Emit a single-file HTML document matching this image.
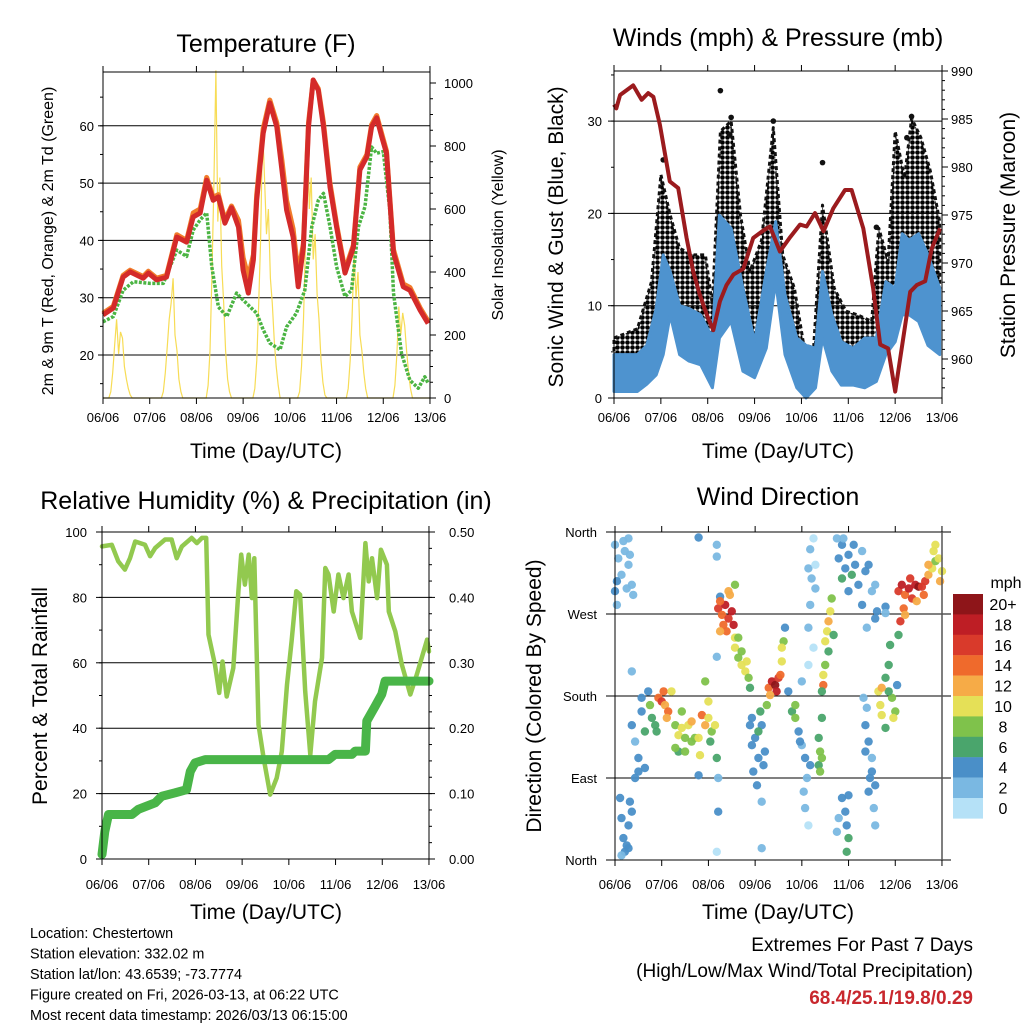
<!DOCTYPE html>
<html><head><meta charset="utf-8"><style>
body{margin:0;background:#fff;}
svg{display:block;font-family:"Liberation Sans",sans-serif;}
</style></head><body>
<svg id="c" width="1024" height="1024" viewBox="0 0 1024 1024">
<defs>
<pattern id="dots" width="5" height="5" patternUnits="userSpaceOnUse"><circle cx="2.5" cy="2.5" r="2.3" fill="#000"/></pattern>
</defs>
</svg>
<script>
// ---------- DATA ----------
const tempDays=[0,0.22,0.43,0.58,0.86,0.97,1.15,1.36,1.58,1.79,1.93,2.08,2.22,2.36,2.47,2.61,2.75,2.90,3.00,3.11,3.22,3.29,3.43,3.57,3.72,3.83,3.93,4.07,4.18,4.29,4.40,4.50,4.61,4.72,4.86,5.00,5.18,5.36,5.50,5.65,5.75,5.86,5.97,6.07,6.22,6.43,6.57,6.79,6.96];
const tempRed=[27.0,28.2,33.6,34.5,33.4,34.3,33.1,33.6,40.6,39.7,44.1,44.8,50.5,47.0,47.6,43.0,45.7,42.3,34.8,30.8,36.6,47.0,58.7,64.0,59.8,52.3,45.3,40.6,31.9,38.8,59.8,68.0,66.2,59.8,49.3,42.3,34.3,38.8,52.3,54.6,59.8,61.4,58.0,55.2,37.8,31.9,31.3,27.8,25.5];
const tempOrange=[27.3,28.5,33.9,34.8,33.7,34.6,33.4,33.9,41.0,40.0,44.8,45.5,51.0,47.5,48.0,43.5,46.0,43.5,37.0,33.5,37.5,48.0,59.5,64.5,60.5,54.0,47.0,42.0,34.0,39.5,60.5,68.0,66.5,60.5,50.0,42.8,34.8,39.2,52.8,55.0,60.2,61.8,58.5,55.6,38.4,32.4,31.8,28.2,25.9];
const dewDays=[0,0.22,0.43,0.65,1.01,1.29,1.58,1.79,1.93,2.08,2.22,2.33,2.47,2.65,2.86,3.00,3.15,3.29,3.43,3.57,3.79,3.93,4.14,4.32,4.47,4.61,4.72,4.86,5.00,5.18,5.32,5.47,5.61,5.75,5.86,6.00,6.14,6.22,6.39,6.57,6.75,6.89,6.96];
const dewPt=[25.8,26.7,31.3,32.8,32.5,32.5,38.3,37.2,41.8,43.6,44.8,35.4,28.4,26.7,30.8,29.6,28.4,27.3,24.4,22.1,20.9,24.9,27.3,31.3,42.4,47.0,48.2,42.4,35.4,30.2,31.3,42.4,45.9,56.3,55.2,55.5,45.3,30.8,20.3,15.6,14.2,16.2,15.1];
const solar=[
0,0,0,0,20,80,170,250,140,210,190,100,60,30,10,0,0,0,0,0,0,0,0,0,
0,0,0,0,0,0,0,20,80,160,250,300,380,200,150,60,20,0,0,0,0,0,0,0,
0,0,0,0,0,0,40,150,400,680,1040,560,700,420,300,150,60,20,0,0,0,0,0,0,
0,0,0,0,0,0,30,120,300,500,860,700,520,600,380,300,180,100,40,0,0,0,0,0,
0,0,0,0,0,20,100,250,480,880,600,700,440,520,330,250,120,50,10,0,0,0,0,0,
0,0,0,0,0,0,30,120,260,460,320,400,200,150,80,30,0,0,0,0,0,0,0,0,
0,0,0,0,0,0,40,140,290,200,270,230,150,80,30,0,0,0,0,0,0,0,0,0,0];

const presDays=[0,0.05,0.13,0.41,0.59,0.73,0.84,0.98,1.19,1.37,1.55,1.69,1.83,1.98,2.12,2.26,2.40,2.55,2.76,2.97,3.19,3.33,3.54,3.76,3.97,4.11,4.29,4.47,4.68,4.93,5.07,5.32,5.53,5.68,5.85,6.00,6.14,6.32,6.46,6.64,6.78,6.96];
const pressure=[986.5,986.1,987.5,988.5,987.0,987.7,987.3,984.4,978.5,977.8,972.6,969.1,966.7,964.6,963.0,966.0,967.7,968.8,969.4,972.6,973.4,973.8,971.2,972.7,974.0,973.8,975.2,973.3,975.7,977.6,977.6,973.6,967.4,961.5,961.1,956.6,961.1,967.0,967.7,968.1,971.5,973.6];
const windDays=[0,0.5,0.7,0.9,1.05,1.2,1.4,1.6,1.85,2.1,2.25,2.5,2.75,3.0,3.25,3.45,3.65,3.9,4.1,4.3,4.45,4.65,4.85,5.1,5.35,5.6,5.8,6.0,6.15,6.3,6.5,6.7,6.95];
const windHi=[4.7,4.7,5.7,9.7,15.5,13.7,10,9.7,9,6.5,19.8,18.4,11.9,6.1,13.7,19.1,11.2,6.5,5.7,5.4,13.7,9,6.1,5.4,6.5,6.5,12.6,11.9,17.8,17.1,17.8,15.5,11.9];
const windLo=[0.7,0.7,1.5,2.5,4.7,9,4.7,4,3.6,1.1,6.5,8.3,2.9,2.2,5.4,12.6,4.7,1.1,0,1.1,6.5,2.9,1.4,1.4,1.1,1.8,4.7,6.1,9,9,8.3,5.7,4.7];
const gustDays=[0,0.5,0.8,1.0,1.2,1.4,1.7,1.95,2.1,2.27,2.5,2.7,2.9,3.15,3.4,3.6,3.85,4.05,4.25,4.45,4.7,4.95,5.2,5.5,5.65,5.85,6.0,6.2,6.35,6.55,6.75,6.95];
const gustHi=[6.5,7.5,12.6,24.2,19.8,16.2,15.5,15.5,10.1,28.9,30,19.8,13.7,17.1,29.3,15.5,11.9,5.7,4.7,20.9,11.9,9.4,9,8.3,18.4,14.8,28.9,23.8,30.3,28.2,24.6,19.1];
const gustOutDays=[2.27,2.5,2.47,3.4,4.45,6.35,5.6,1.05,6.25];
const gustOutVals=[33.3,30.4,28.5,30.0,25.5,30.5,18.5,25.8,28.2];

const rhDays=[0,0.21,0.35,0.49,0.6,0.71,0.92,1.03,1.14,1.35,1.49,1.6,1.71,1.92,2.03,2.14,2.23,2.28,2.42,2.51,2.58,2.67,2.81,2.92,2.98,3.06,3.14,3.21,3.26,3.35,3.46,3.6,3.74,3.85,3.96,4.06,4.16,4.24,4.35,4.46,4.56,4.71,4.78,4.85,4.96,5.06,5.17,5.28,5.35,5.53,5.64,5.71,5.78,5.89,5.97,6.1,6.14,6.28,6.42,6.6,6.74,6.96,7.0];
const rh=[95.6,96.1,91,88.5,92,97.1,96.1,92.6,95.1,97.7,97.7,92,95.6,98.2,96.6,98.2,98.2,68.6,59.4,50.8,60.4,49.7,58.4,81.9,93.1,83.9,93.1,79.8,92,41.1,30.9,19.7,24.8,32.9,53.3,66.6,81.9,80.8,51.3,31.9,48.2,61.5,89,87,75.7,87,79.8,87,75.7,67.6,96.6,84.9,92,79.8,94.6,90,75.7,69.6,59.4,50.3,56.4,67.1,63.5];
const rainDays=[0,0.06,0.14,0.64,0.78,1.14,1.28,1.56,1.81,1.89,1.99,2.21,4.85,4.99,5.35,5.42,5.64,5.67,5.85,5.99,6.06,7.0];
const rain=[0.007,0.042,0.068,0.068,0.076,0.086,0.096,0.101,0.106,0.134,0.147,0.152,0.152,0.16,0.16,0.165,0.165,0.211,0.234,0.252,0.272,0.272];

const dirDays=[0,0.07,0.14,0.21,0.29,0.36,0,0.04,0.18,0.39,0.04,0.29,0.25,0.32,
0.11,0.14,0.18,0.21,0.29,0.25,0.32,0.36,0.14,0.29,
0.36,0.43,0.5,0.57,0.64,0.71,0.79,0.86,0.5,0.64,0.43,0.36,0.75,0.89,0.57,
0.93,1.0,1.07,1.14,1.04,1.21,1.11,
1.29,1.36,1.43,1.5,1.57,1.64,1.36,1.5,1.64,1.29,1.71,1.43,
1.79,1.86,1.93,2.0,2.07,2.14,1.93,2.04,1.82,2.18,1.79,2.21,2.0,
1.79,2.18,2.18,2.21,2.18,2.18,2.25,
2.21,2.29,2.36,2.43,2.5,2.54,2.25,2.39,2.46,2.32,2.57,2.25,2.57,2.43,
2.57,2.64,2.71,2.79,2.86,2.71,2.89,2.64,2.82,
2.93,3.0,3.07,2.96,3.14,3.21,3.04,3.11,3.18,3.07,2.93,3.14,3.14,2.89,
3.29,3.36,3.43,3.5,3.46,3.54,3.32,3.57,3.61,3.57,3.64,3.25,
3.79,3.86,3.93,4.0,4.07,4.11,4.04,4.07,4.14,3.86,3.96,4.18,3.71,4.0,
4.25,4.18,4.14,4.21,4.29,4.18,4.29,4.14,4.25,4.14,
4.36,4.39,4.36,4.43,4.39,4.43,
4.46,4.46,4.5,4.5,4.54,4.57,4.61,4.64,4.57,4.68,4.43,
4.79,4.86,4.93,5.0,5.07,5.14,5.21,5.29,5.36,5.0,4.86,5.43,5.5,5.29,4.89,4.75,5.11,5.57,
4.86,4.93,4.96,5.0,4.96,4.79,4.75,5.0,
5.36,5.43,5.5,5.46,5.43,5.54,5.57,5.39,5.32,5.5,5.57,5.36,
5.64,5.68,5.71,5.79,5.86,5.89,5.93,6.0,5.96,5.86,5.71,6.04,5.79,
6.07,6.14,6.21,6.29,6.36,6.43,6.5,6.57,6.64,6.71,6.79,6.86,6.93,7.0,6.86,6.11,6.18,6.32,6.46,6.61,6.71,6.82,6.96,6.07,6.21,
5.79,5.61,5.79,5.57,5.39];
const dirDeg=[346,331,313,339,324,302,295,306,350,291,280,353,298,335,
68,46,24,9,38,16,64,53,5,13,
148,130,112,163,141,185,156,148,97,101,90,207,170,141,178,
178,174,170,163,185,185,156,
148,137,145,134,148,130,119,119,152,123,134,163,
134,159,148,156,141,148,196,130,115,112,93,90,174,
354,346,333,53,9,223,289,
276,269,280,265,273,258,284,251,291,258,302,251,244,295,
233,222,214,207,200,229,189,244,218,
156,134,112,97,148,119,82,163,104,141,126,64,13,148,
189,196,192,200,185,203,181,218,240,233,255,170,
163,156,141,126,112,90,75,57,38,170,130,104,185,196,
353,341,320,309,298,280,324,214,233,255,
134,119,104,112,97,156,
192,203,214,240,251,262,273,287,229,247,185,
331,346,320,335,313,324,302,339,317,295,309,324,295,280,353,353,346,302,
68,53,38,24,9,46,31,71,
148,130,112,90,75,57,38,167,178,97,82,119,
185,170,159,200,214,236,178,163,156,185,189,192,145,
295,302,291,298,287,302,300,300,306,313,320,328,331,317,346,262,276,309,284,291,324,339,306,247,269,
278,273,271,265,255];
const dirSpeed=[2,2,1,2,2,2,3,3,1,1,2,1,2,1,
3,3,4,4,3,3,4,3,2,3,
3,2,4,4,5,4,6,6,4,3,4,1,7,6,4,
14,15,12,13,13,10,12,
8,9,10,8,10,7,6,7,11,7,8,8,
10,13,11,10,8,9,8,6,9,5,4,2,10,
4,1,1,3,0,2,4,
16,14,17,15,18,17,13,14,11,13,8,12,10,12,
9,8,9,10,8,7,6,8,10,
4,4,4,3,3,4,4,5,3,6,4,2,2,3,
14,17,19,16,18,13,12,10,8,10,4,8,
6,8,3,2,3,2,1,1,0,7,4,3,4,2,
0,1,1,2,1,2,0,0,0,1,
6,7,6,7,8,6,
14,10,8,9,10,11,10,8,6,5,6,
4,3,4,4,5,4,3,2,4,3,5,3,2,4,2,2,4,2,
4,4,4,5,6,2,2,3,
3,3,2,4,3,2,2,2,1,4,3,4,
10,9,10,6,5,6,7,8,9,6,12,4,5,
16,17,14,18,16,17,19,16,15,12,10,8,9,10,10,16,13,15,12,14,11,9,11,6,12,
4,4,2,4,1];
const speedBins=["20+","18","16","14","12","10","8","6","4","2","0"];
const dayLabels=["06/06","07/06","08/06","09/06","10/06","11/06","12/06","13/06"];

// ---------- HELPERS ----------
const NS="http://www.w3.org/2000/svg";
const svg=document.getElementById('c');
function mk(tag,attrs,parent){const e=document.createElementNS(NS,tag);for(const k in attrs)e.setAttribute(k,attrs[k]);(parent||svg).appendChild(e);return e;}
function txt(s,x,y,size,anchor,parent,extra){const e=mk('text',Object.assign({x:x,y:y,'font-size':size,'text-anchor':anchor||'middle',fill:'#000'},extra||{}),parent);e.textContent=s;return e;}
function pathFrom(xs,ys,fx,fy){let d='';for(let i=0;i<xs.length;i++){d+=(i?'L':'M')+fx(xs[i]).toFixed(1)+','+fy(ys[i]).toFixed(1);}return d;}
function group(name){const g=mk('g',{});return g;}

function xAxis(g,x0,pxDay,yBot,yTop,labelY){
  for(let i=0;i<dayLabels.length;i++){const x=x0+i*pxDay;
    mk('line',{x1:x,y1:yBot,x2:x,y2:yBot+6,stroke:'#000','stroke-width':1},g);
    mk('line',{x1:x,y1:yTop,x2:x,y2:yTop-6,stroke:'#000','stroke-width':1},g);
    const t=txt(dayLabels[i],x,labelY,13,'middle',g);
    
    }
}

// ---------- PANEL 1: TEMPERATURE ----------
(function(){
  const g=group('temperature-panel');
  const L=103,R=430,T=72,B=398;
  const xT=d=>L+d*46.71, yT=t=>355-(t-20)*5.73, yS=s=>398-s*0.315;
  [20,30,40,50,60].forEach(v=>{mk('line',{x1:L,x2:R,y1:yT(v),y2:yT(v),stroke:'#000','stroke-width':1},g);
    const t=txt(String(v),L-9,yT(v)+5,13,'end',g);
    mk('line',{x1:L,x2:L-5,y1:yT(v),y2:yT(v),stroke:'#000'},g);});
  for(let v=15;v<=65;v+=5){mk('line',{x1:L,x2:L-3,y1:yT(v),y2:yT(v),stroke:'#000'},g);}
  [0,200,400,600,800,1000].forEach(v=>{mk('line',{x1:R,x2:R+6,y1:yS(v),y2:yS(v),stroke:'#000'},g);
    const t=txt(String(v),R+14,yS(v)+5,13,'start',g);});
  for(let v=50;v<=1000;v+=50){mk('line',{x1:R,x2:R+3,y1:yS(v),y2:yS(v),stroke:'#000'},g);}
  const sx=[];for(let i=0;i<solar.length;i++)sx.push(i/24);
  const ps=mk('path',{d:pathFrom(sx,solar,xT,yS),fill:'none',stroke:'#f7dc55','stroke-width':1.2},g);
  
  const pd=mk('path',{d:pathFrom(dewDays,dewPt,xT,yT),fill:'none',stroke:'#4bb443','stroke-width':3.5,'stroke-dasharray':'3 1.5','stroke-linejoin':'round'},g);
  
  const po=mk('path',{d:pathFrom(tempDays,tempOrange,xT,yT),fill:'none',stroke:'#f17c2b','stroke-width':5,'stroke-linejoin':'round'},g);
  
  const pr=mk('path',{d:pathFrom(tempDays,tempRed,xT,yT),fill:'none',stroke:'#d42a2a','stroke-width':5,'stroke-linejoin':'round'},g);
  
  mk('rect',{x:L,y:T,width:R-L,height:B-T,fill:'none',stroke:'#000','stroke-width':1},g);
  xAxis(g,L,46.71,B,T,422);
  let t=txt('Temperature (F)',266,52,25,'middle',g);
  t=txt('Time (Day/UTC)',266,458,21,'middle',g);
  t=txt('2m & 9m T (Red, Orange) & 2m Td (Green)',0,0,16,'middle',g,{transform:'translate(53,241) rotate(-90)'});
  t=txt('Solar Insolation (Yellow)',0,0,16,'middle',g,{transform:'translate(503,235) rotate(-90)'});
})();

// ---------- PANEL 2: WINDS ----------
(function(){
  const g=group('winds-panel');
  const L=614,R=942,T=71,B=398;
  const xW=d=>L+d*46.86, yW=m=>398-m*9.23, yP=p=>359-(p-960)*9.6;
  [10,20,30].forEach(v=>mk('line',{x1:L,x2:R,y1:yW(v),y2:yW(v),stroke:'#000'},g));
  [0,10,20,30].forEach(v=>{mk('line',{x1:L,x2:L-6,y1:yW(v),y2:yW(v),stroke:'#000'},g);
    const t=txt(String(v),L-12,yW(v)+5,13,'end',g);});
  for(let v=5;v<=35;v+=5)mk('line',{x1:L,x2:L-3,y1:yW(v),y2:yW(v),stroke:'#000'},g);
  [960,965,970,975,980,985,990].forEach(v=>{mk('line',{x1:R,x2:R+6,y1:yP(v),y2:yP(v),stroke:'#000'},g);
    const t=txt(String(v),R+9,yP(v)+5,13,'start',g);});
  for(let v=957;v<=990;v++)mk('line',{x1:R,x2:R+3,y1:yP(v),y2:yP(v),stroke:'#000'},g);
  // gust band (black dotted cloud)
  let d='';for(let i=0;i<gustDays.length;i++)d+=(i?'L':'M')+xW(gustDays[i]).toFixed(1)+','+yW(gustHi[i]).toFixed(1);
  for(let i=windDays.length-1;i>=0;i--)d+='L'+xW(windDays[i]).toFixed(1)+','+yW(windHi[i]).toFixed(1);
  let e=mk('path',{d:d+'Z',fill:'url(#dots)',stroke:'#111','stroke-width':3,'stroke-dasharray':'4 3','stroke-linejoin':'round'},g);
  
  for(let i=0;i<gustOutDays.length;i++){const c=mk('circle',{cx:xW(gustOutDays[i]),cy:yW(gustOutVals[i]),r:2.8,fill:'#111'},g);
    }
  d='';for(let i=0;i<windDays.length;i++)d+=(i?'L':'M')+xW(windDays[i]).toFixed(1)+','+yW(windHi[i]).toFixed(1);
  for(let i=windDays.length-1;i>=0;i--)d+='L'+xW(windDays[i]).toFixed(1)+','+yW(windLo[i]).toFixed(1);
  e=mk('path',{d:d+'Z',fill:'#4e93cf',stroke:'#4e93cf','stroke-width':3,'stroke-linejoin':'round'},g);
  
  e=mk('path',{d:pathFrom(presDays,pressure,xW,yP),fill:'none',stroke:'#9b1b1e','stroke-width':4,'stroke-linejoin':'round'},g);
  
  mk('rect',{x:L,y:T,width:R-L,height:B-T,fill:'none',stroke:'#000'},g);
  xAxis(g,L,46.86,B,T,422);
  let t=txt('Winds (mph) & Pressure (mb)',778,46,25,'middle',g);
  t=txt('Time (Day/UTC)',778,458,21,'middle',g);
  t=txt('Sonic Wind & Gust (Blue, Black)',0,0,21,'middle',g,{transform:'translate(563,237) rotate(-90)'});
  t=txt('Station Pressure (Maroon)',0,0,21,'middle',g,{transform:'translate(1015,235) rotate(-90)'});
})();

// ---------- PANEL 3: RH & PRECIP ----------
(function(){
  const g=group('humidity-panel');
  const L=102,R=429,T=532,B=859;
  const xR=d=>L+d*46.71, yR=r=>859-r*3.27, yPr=p=>859-p*654;
  [20,40,60,80].forEach(v=>mk('line',{x1:L,x2:R,y1:yR(v),y2:yR(v),stroke:'#000'},g));
  [0,20,40,60,80,100].forEach(v=>{mk('line',{x1:L,x2:L-6,y1:yR(v),y2:yR(v),stroke:'#000'},g);
    const t=txt(String(v),L-15,yR(v)+5,13,'end',g);});
  for(let v=10;v<=90;v+=10)mk('line',{x1:L,x2:L-3,y1:yR(v),y2:yR(v),stroke:'#000'},g);
  ['0.00','0.10','0.20','0.30','0.40','0.50'].forEach(s=>{const v=parseFloat(s);mk('line',{x1:R,x2:R+6,y1:yPr(v),y2:yPr(v),stroke:'#000'},g);
    const t=txt(s,R+20,yPr(v)+5,13,'start',g);});
  for(let v=0.025;v<0.5;v+=0.025)mk('line',{x1:R,x2:R+3,y1:yPr(v),y2:yPr(v),stroke:'#000'},g);
  let e=mk('path',{d:pathFrom(rhDays,rh,xR,yR),fill:'none',stroke:'#92c94f','stroke-width':4.5,'stroke-linejoin':'round','stroke-linecap':'round'},g);
  
  e=mk('path',{d:pathFrom(rainDays,rain,xR,yPr),fill:'none',stroke:'#49b548','stroke-width':9,'stroke-linejoin':'round','stroke-linecap':'round'},g);
  
  mk('rect',{x:L,y:T,width:R-L,height:B-T,fill:'none',stroke:'#000'},g);
  xAxis(g,L,46.71,B,T,889);
  let t=txt('Relative Humidity (%) & Precipitation (in)',266,509,25,'middle',g);
  t=txt('Time (Day/UTC)',266,919,21,'middle',g);
  t=txt('Percent & Total Rainfall',0,0,21,'middle',g,{transform:'translate(47,696) rotate(-90)'});
})();

// ---------- PANEL 4: WIND DIRECTION ----------
const speedColors=['#b5e1f7','#7ab8e2','#4a8fc8','#4aa56c','#7fc24b','#e5e057','#f6ab47','#ef6a2c','#d93a2b','#be1e25','#8e1519'];
function speedColor(s){const i=Math.min(10,Math.max(0,Math.floor((s+1)/2)));return speedColors[i];}
(function(){
  const g=group('wind-direction-panel');
  const L=615,R=942,T=532,B=860;
  const xD=d=>L+d*46.71, yD=a=>860-a*0.9111;
  const names=['North','East','South','West','North'];
  [0,90,180,270,360].forEach((v,i)=>{mk('line',{x1:606,x2:951,y1:yD(v),y2:yD(v),stroke:'#000'},g);
    const t=txt(names[i],597,yD(v)+5,13,'end',g);});
  for(let i=0;i<dirDays.length;i++){
    const c=mk('circle',{cx:xD(dirDays[i]).toFixed(1),cy:yD(dirDeg[i]).toFixed(1),r:4.2,fill:speedColor(dirSpeed[i]),'fill-opacity':0.95},g);
    
    
  }
  mk('line',{x1:L,x2:L,y1:T,y2:B,stroke:'#000'},g);
  mk('line',{x1:R,x2:R,y1:T,y2:B,stroke:'#555','stroke-width':1.5},g);
  xAxis(g,L,46.71,B,T,889);
  let t=txt('Wind Direction',778,505,25,'middle',g);
  t=txt('Time (Day/UTC)',778,919,21,'middle',g);
  t=txt('Direction (Colored By Speed)',0,0,21,'middle',g,{transform:'translate(541,696) rotate(-90)'});
  // legend
  const lg=group('speed-legend');
  t=txt('mph',1006,588,16,'middle',lg);
  for(let i=0;i<speedBins.length;i++){
    const r=mk('rect',{x:953,y:594+i*20.4,width:30,height:20.6,fill:speedColors[10-i]},lg);
    
    
    const l=txt(speedBins[i],1003,594+i*20.4+16,16,'middle',lg);
    
    
  }
})();

// ---------- FOOTER TEXT ----------
(function(){
  const g=group('station-info');
  ['Location: Chestertown','Station elevation: 332.02 m','Station lat/lon: 43.6539; -73.7774','Figure created on Fri, 2026-03-13, at 06:22 UTC','Most recent data timestamp: 2026/03/13 06:15:00'].forEach((s,i)=>{
    const t=txt(s,30,938+i*20.5,14.4,'start',g);});
  const h=group('extremes-info');
  let t=txt('Extremes For Past 7 Days',973,951,19,'end',h);
  t=txt('(High/Low/Max Wind/Total Precipitation)',973,977,19,'end',h);
  t=txt('68.4/25.1/19.8/0.29',973,1004,19,'end',h,{fill:'#c8272d','font-weight':'bold'});
})();
</script>
</body></html>
